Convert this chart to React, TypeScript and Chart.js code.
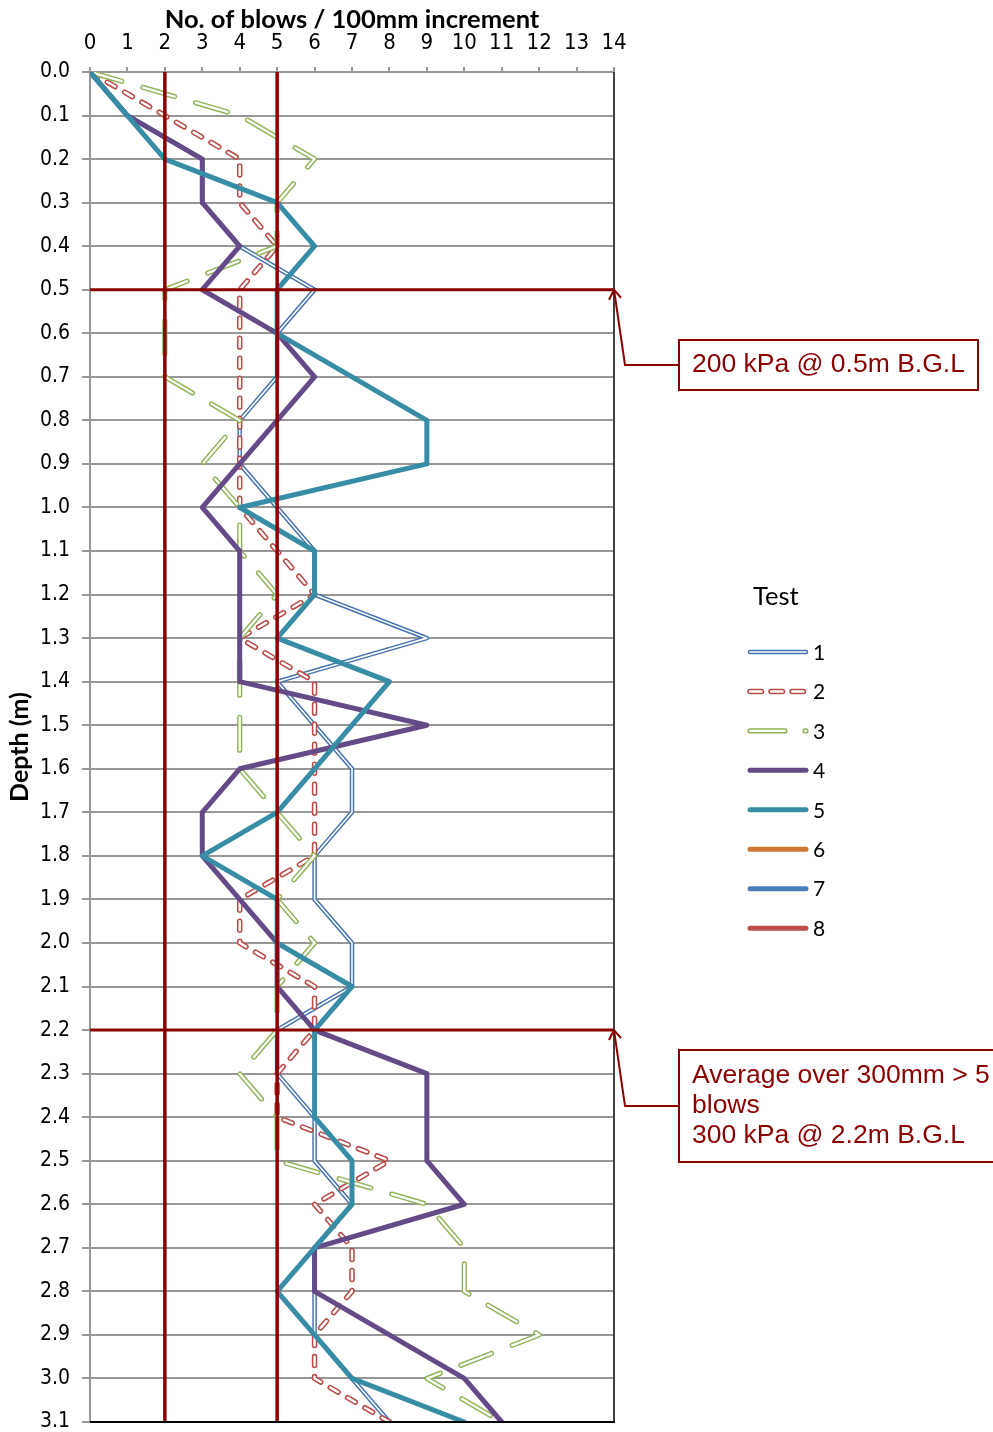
import React, { useEffect, useRef } from "react";
import { Chart, registerables } from "chart.js";

Chart.register(...registerables);

// ---------- data ----------
const depths = [0.0, 0.1, 0.2, 0.3, 0.4, 0.5, 0.6, 0.7, 0.8, 0.9, 1.0, 1.1, 1.2, 1.3, 1.4, 1.5, 1.6, 1.7, 1.8, 1.9, 2.0, 2.1, 2.2, 2.3, 2.4, 2.5, 2.6, 2.7, 2.8, 2.9, 3.0, 3.1];
const blowTicks = [0, 1, 2, 3, 4, 5, 6, 7, 8, 9, 10, 11, 12, 13, 14];

const test1 = [0, 1, 3, 3, 4, 6, 5, 5, 4, 4, 5, 6, 6, 9, 5, 6, 7, 7, 6, 6, 7, 7, 5, 5, 6, 6, 7, 6, 6, 6, 7, 8];
const test2 = [0, 2, 4, 4, 5, 4, 4, 4, 4, 4, 4, 5, 6, 4, 6, 6, 6, 6, 6, 4, 4, 6, 6, 5, 5, 8, 6, 7, 7, 6, 6, 8];
const test3 = [0, 4, 6, 5, 5, 2, 2, 2, 4, 3, 4, 4, 5, 4, 4, 4, 4, 5, 6, 5, 6, 5, 5, 4, 5, 5, 9, 10, 10, 12, 9, 11];
const test4 = [0, 1, 3, 3, 4, 3, 5, 6, 5, 4, 3, 4, 4, 4, 4, 9, 4, 3, 3, 4, 5, 5, 6, 9, 9, 9, 10, 6, 6, 8, 10, 11];
const test5 = [0, 1, 2, 5, 6, 5, 5, 7, 9, 9, 4, 6, 6, 5, 8, 7, 6, 5, 3, 5, 5, 7, 6, 6, 6, 7, 7, 6, 5, 6, 7, 10];
const test6: number[] = [];
const test7: number[] = [];
const test8: number[] = [];

const seriesNames = ["1", "2", "3", "4", "5", "6", "7", "8"];
const limitBlows = [2, 5];
const limitDepths = [0.5, 2.2];

const xTitle = "No. of blows / 100mm increment";
const yTitle = "Depth (m)";
const legendTitle = "Test";
const callout1 = ["200 kPa @ 0.5m B.G.L"];
const callout2 = ["Average over 300mm > 5", "blows", "300 kPa @ 2.2m B.G.L"];

// ---------- styles ----------
const REF = "#8B0000";
const GRID = "#979797";
const TICK_FONT = '"Liberation Sans Narrow", "DejaVu Sans Condensed", "Liberation Sans", Arial, sans-serif';
const CAL_FONT = 'Lato, "Open Sans", sans-serif';
const ARIAL = '"Liberation Sans", Arial, sans-serif';

type Style = { color: string; width: number; inner?: number; dash?: number[]; legendDash?: number[] };
const styles: Style[] = [
  { color: "#4372AE", width: 4.5, inner: 1.6 },
  { color: "#B84B48", width: 5.5, inner: 2.4, dash: [9, 11], legendDash: [11.5, 9.5] },
  { color: "#8FB356", width: 5.2, inner: 2.3, dash: [33, 22], legendDash: [35, 20] },
  { color: "#654A88", width: 5 },
  { color: "#378DA5", width: 5 },
  { color: "#D2772F", width: 5 },
  { color: "#4A7EBB", width: 5 },
  { color: "#C04C4A", width: 5 },
];
const seriesValues = [test1, test2, test3, test4, test5, test6, test7, test8];

const toPoints = (vals: number[]) => vals.map((v, i) => ({ x: v, y: depths[i] }));

function buildDatasets() {
  const ds: any[] = [];
  seriesValues.forEach((vals, k) => {
    const st = styles[k];
    const base = {
      data: toPoints(vals),
      pointRadius: 0,
      pointHoverRadius: 0,
      tension: 0,
      fill: false,
      borderCapStyle: "round",
      borderJoinStyle: "round",
      borderDash: st.dash || [],
    };
    ds.push({ ...base, label: seriesNames[k], borderColor: st.color, borderWidth: st.width, order: 100 - k * 2 });
    if (st.inner) {
      ds.push({ ...base, label: seriesNames[k] + "_inner", borderColor: "#ffffff", borderWidth: st.inner, order: 99 - k * 2 });
    }
  });
  return ds;
}

function line(ctx: CanvasRenderingContext2D, x1: number, y1: number, x2: number, y2: number) {
  ctx.beginPath();
  ctx.moveTo(x1, y1);
  ctx.lineTo(x2, y2);
  ctx.stroke();
}

function drawCallout(ctx: CanvasRenderingContext2D, tipX: number, tipY: number, box: { l: number; t: number; r: number; b: number }, lines: string[], midY: number, firstBase: number) {
  ctx.save();
  ctx.strokeStyle = REF;
  ctx.lineWidth = 2;
  ctx.lineJoin = "miter";
  ctx.beginPath();
  ctx.moveTo(tipX, tipY);
  ctx.lineTo(tipX + 11, midY);
  ctx.lineTo(box.l, midY);
  ctx.stroke();
  ctx.beginPath();
  ctx.moveTo(tipX - 5, tipY + 10);
  ctx.lineTo(tipX, tipY);
  ctx.lineTo(tipX + 7, tipY + 8);
  ctx.stroke();
  ctx.fillStyle = "#ffffff";
  ctx.fillRect(box.l, box.t, box.r - box.l, box.b - box.t);
  ctx.strokeRect(box.l, box.t, box.r - box.l, box.b - box.t);
  ctx.fillStyle = REF;
  ctx.font = `26.5px ${ARIAL}`;
  ctx.textAlign = "left";
  ctx.textBaseline = "alphabetic";
  lines.forEach((t, i) => ctx.fillText(t, box.l + 13, firstBase + i * 30));
  ctx.restore();
}

function drawLegend(ctx: CanvasRenderingContext2D) {
  ctx.save();
  ctx.fillStyle = "#000";
  ctx.font = `25.5px ${CAL_FONT}`;
  ctx.textAlign = "left";
  ctx.textBaseline = "alphabetic";
  ctx.fillText(legendTitle, 753, 605);
  const x1 = 750;
  const x2 = 806;
  styles.forEach((st, k) => {
    const yy = 652 + k * 39.45;
    ctx.lineCap = "round";
    ctx.setLineDash(st.legendDash || []);
    ctx.strokeStyle = st.color;
    ctx.lineWidth = st.width;
    line(ctx, x1, yy, x2, yy);
    if (st.inner) {
      ctx.strokeStyle = "#ffffff";
      ctx.lineWidth = st.inner;
      line(ctx, x1, yy, x2, yy);
    }
    ctx.setLineDash([]);
    ctx.fillStyle = "#000";
    ctx.font = `21px ${CAL_FONT}`;
    ctx.textBaseline = "middle";
    ctx.fillText(seriesNames[k], 813, yy + 1);
  });
  ctx.restore();
}

const overlay = {
  id: "overlay",
  afterDatasetsDraw(chart: any) {
    const { ctx, chartArea: a, scales } = chart;
    const x = scales.x;
    const y = scales.y;
    ctx.save();
    ctx.lineCap = "butt";
    ctx.strokeStyle = REF;
    ctx.lineWidth = 3.5;
    limitBlows.forEach((b) => {
      const px = x.getPixelForValue(b);
      line(ctx, px, a.top, px, a.bottom);
    });
    ctx.lineWidth = 3;
    limitDepths.forEach((d) => {
      const py = y.getPixelForValue(d);
      line(ctx, a.left, py, a.right, py);
    });
    ctx.lineWidth = 2;
    ctx.strokeStyle = "#404040";
    line(ctx, a.right, a.top, a.right, a.bottom + 1);
    ctx.strokeStyle = "#000";
    line(ctx, a.left, a.bottom, a.right + 1, a.bottom);
    ctx.restore();
  },
  afterDraw(chart: any) {
    const { ctx, chartArea: a, scales } = chart;
    const y = scales.y;
    drawCallout(ctx, a.right, y.getPixelForValue(limitDepths[0]), { l: 679, t: 340, r: 978, b: 390 }, callout1, 365, 372);
    drawCallout(ctx, a.right, y.getPixelForValue(limitDepths[1]), { l: 679, t: 1050, r: 1000, b: 1162 }, callout2, 1106, 1083);
    drawLegend(ctx);
  },
};

export default function App() {
  const ref = useRef<HTMLCanvasElement>(null);
  useEffect(() => {
    const chart = new Chart(ref.current as HTMLCanvasElement, {
      type: "line",
      data: { datasets: buildDatasets() },
      plugins: [overlay],
      options: {
        responsive: false,
        animation: false,
        devicePixelRatio: 1,
        layout: { padding: { left: 0, top: 1, right: 379, bottom: 10 } },
        plugins: { legend: { display: false }, tooltip: { enabled: false } },
        elements: { line: { tension: 0 } },
        scales: {
          x: {
            type: "linear",
            position: "top",
            min: 0,
            max: 14,
            afterBuildTicks: (s: any) => {
              s.ticks = blowTicks.map((v) => ({ value: v }));
            },
            afterFit: (s: any) => {
              s.height = 71;
              s.paddingLeft = 0;
              s.paddingRight = 0;
              s.paddingTop = 0;
              s.paddingBottom = 0;
            },
            ticks: { color: "#000", font: { family: TICK_FONT, size: 22 }, padding: 11, autoSkip: false, maxRotation: 0 },
            grid: { drawOnChartArea: false, drawTicks: true, tickLength: 5, color: GRID, lineWidth: 2 },
            border: { display: true, color: GRID, width: 2 },
            title: { display: true, text: xTitle, color: "#000", font: { family: CAL_FONT, size: 25.5, weight: "bold" }, padding: { top: 3, bottom: 0 } },
          },
          y: {
            type: "linear",
            position: "left",
            reverse: true,
            min: 0,
            max: 3.1,
            afterBuildTicks: (s: any) => {
              s.ticks = depths.map((v) => ({ value: v }));
            },
            afterFit: (s: any) => {
              s.width = 90;
              s.paddingLeft = 0;
              s.paddingRight = 0;
              s.paddingTop = 0;
              s.paddingBottom = 0;
            },
            ticks: { color: "#000", font: { family: TICK_FONT, size: 21 }, padding: 12, autoSkip: false, callback: (v: any) => Number(v).toFixed(1) },
            grid: { color: GRID, lineWidth: 2, drawTicks: true, tickLength: 8 },
            border: { display: true, color: GRID, width: 2 },
            title: { display: true, text: yTitle, color: "#000", font: { family: CAL_FONT, size: 25, weight: "bold" }, padding: { top: 5, bottom: 0 } },
          },
        },
      } as any,
    });
    return () => chart.destroy();
  }, []);
  return (
    <div style={{ position: "absolute", left: 0, top: 0, width: 993, height: 1432, background: "#fff", overflow: "hidden" }}>
      <canvas ref={ref} width={993} height={1432} style={{ display: "block", width: 993, height: 1432 }} />
    </div>
  );
}
